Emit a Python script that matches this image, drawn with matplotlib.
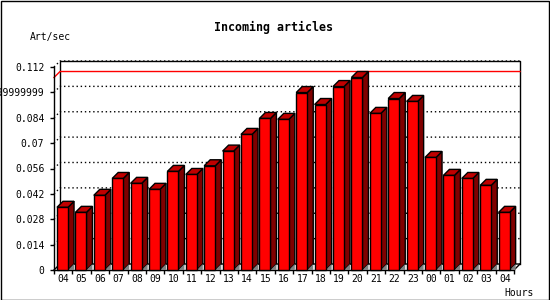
import numpy as np
import matplotlib
matplotlib.use("Agg")
import matplotlib.pyplot as plt
from matplotlib.patches import Polygon, Rectangle

# Data
hours = ['04', '05', '06', '07', '08', '09', '10', '11', '12', '13', '14', '15', '16',
         '17', '18', '19', '20', '21', '22', '23', '00', '01', '02', '03', '04']
values = [0.0346, 0.0318, 0.0412, 0.0505, 0.0478, 0.0445, 0.0544, 0.0527, 0.0575,
          0.0656, 0.0748, 0.0836, 0.0831, 0.0979, 0.0913, 0.1012, 0.1062, 0.0864,
          0.0946, 0.0930, 0.0621, 0.0522, 0.0505, 0.0467, 0.0318]
yticks = [0, 0.014, 0.028, 0.042, 0.056, 0.07, 0.084, 0.098, 0.112]
ytick_labels = ['0', '0.014', '0.028', '0.042', '0.056', '0.07', '0.084',
                '0.09799999999999999', '0.112']

W, H = 550, 300
fig = plt.figure(figsize=(W / 100, H / 100), dpi=100, facecolor='white')

# axes placed in pixels: x 54..514, y 270..67
ax = fig.add_axes([54 / W, (H - 270) / H, 460 / W, 203 / H])
n = len(values)
ymax = 0.112
ax.set_xlim(0, n)
ax.set_ylim(0, ymax)
ax.set_facecolor('none')
for s in ['top', 'right']:
    ax.spines[s].set_visible(False)
for s in ['left', 'bottom']:
    ax.spines[s].set_linewidth(1)

# depth of the 3D effect (6 px) in data units
dx = 6 / 460 * n
dy = 6 / 203 * ymax

mono = 'DejaVu Sans Mono'

# back plane frame
ax.plot([dx, dx, n + dx, n + dx], [dy, ymax + dy, ymax + dy, dy], color='black', lw=1,
        clip_on=False, zorder=1)
ax.plot([0, dx, n + dx], [0, dy, dy], color='black', lw=1, clip_on=False, zorder=1)
ax.plot([n, n + dx], [0, dy], color='black', lw=1, clip_on=False, zorder=1)

# dotted grid on back plane
for y in yticks[1:]:
    ax.plot([0, dx, n + dx], [y, y + dy, y + dy], color='black', lw=1,
            linestyle=(0, (1, 2)), clip_on=False, zorder=1)

# red line at the maximum
vmax = max(values)
ax.plot([0, dx, n + dx], [vmax, vmax + dy, vmax + dy], color='red', lw=1,
        clip_on=False, zorder=2)

# 3D bars
off = 3 / 18.4
bw = 0.6
for i, v in enumerate(values):
    x0 = i + off
    x1 = x0 + bw
    side = Polygon([(x1, 0), (x1, v), (x1 + dx, v + dy), (x1 + dx, dy)], closed=True,
                   facecolor='#800000', edgecolor='black', lw=1, clip_on=False, zorder=3)
    top = Polygon([(x0, v), (x0 + dx, v + dy), (x1 + dx, v + dy), (x1, v)], closed=True,
                  facecolor='#c00000', edgecolor='black', lw=1, clip_on=False, zorder=3)
    shadow = Polygon([(x1, 0), (x1 + dx, dy), (x1 + dx, 0)], closed=True,
                     facecolor='#808080', edgecolor='none', clip_on=False, zorder=3)
    front = Rectangle((x0, 0), bw, v, facecolor='red', edgecolor='black', lw=1,
                      clip_on=False, zorder=4)
    ax.add_patch(side)
    ax.add_patch(top)
    ax.add_patch(shadow)
    ax.add_patch(front)

# ticks
ax.set_yticks(yticks)
ax.set_yticklabels(ytick_labels, fontfamily=mono, fontsize=7)
ax.tick_params(axis='y', length=3, width=1, pad=4)
ax.set_xticks(np.arange(n + 1))
ax.set_xticklabels([])
ax.set_xticks(np.arange(n) + 0.5, minor=True)
ax.set_xticklabels(hours, minor=True, fontfamily=mono, fontsize=7)
ax.tick_params(axis='x', which='major', length=3, width=1)
ax.tick_params(axis='x', which='minor', length=0, pad=3)

# texts
fig.text(274 / W, 1 - 27 / H, 'Incoming articles', ha='center', va='center',
         fontfamily=mono, fontweight='bold', fontsize=8.4)
fig.text(30 / W, 1 - 37 / H, 'Art/sec', ha='left', va='center', fontfamily=mono, fontsize=7)
fig.text(504 / W, 1 - 293 / H, 'Hours', ha='left', va='center', fontfamily=mono, fontsize=7)

# image border
fig.patches.append(Rectangle((0.5 / W, 0.5 / H), 548 / W, 298.5 / H, transform=fig.transFigure,
                             fill=False, edgecolor='black', lw=1))

plt.savefig('out.png', dpi=100)
